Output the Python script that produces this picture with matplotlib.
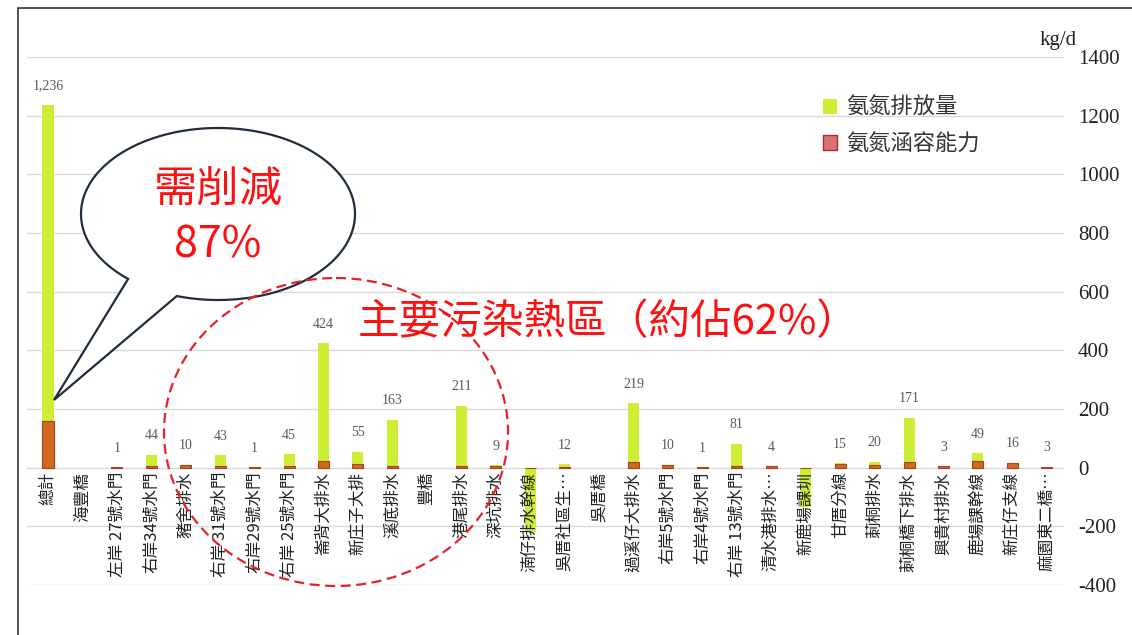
import numpy as np
import matplotlib
matplotlib.use('Agg')
import matplotlib.pyplot as plt
from matplotlib.patches import Patch, Ellipse, PathPatch, Rectangle
from matplotlib.path import Path
from matplotlib.transforms import Affine2D

plt.rcParams['font.family'] = ['Noto Sans CJK TC', 'DejaVu Sans']
plt.rcParams['axes.unicode_minus'] = False

# Data
categories = ['總計', '海豐橋', '左岸 27號水門', '右岸34號水門', '豬舍排水', '右岸 31號水門',
              '右岸29號水門', '右岸 25號水門', '崙背大排水', '新庄子大排', '溪底排水', '豐橋',
              '港尾排水', '深坑排水', '湳仔排水幹線', '吳厝社區生…', '吳厝橋', '過溪仔大排水',
              '右岸5號水門', '右岸4號水門', '右岸 13號水門', '清水港排水…', '新鹿場課圳',
              '甘厝分線', '莿桐排水', '莿桐橋下排水', '興貴村排水', '鹿場課幹線', '新庄仔支線',
              '麻園東二橋…']
nan = np.nan
emission = [1236, nan, 1, 44, 10, 43, 1, 45, 424, 55, 163, nan, 211, 9, -220, 12, nan, 219,
            10, 1, 81, 4, -135, 15, 20, 171, 3, 49, 16, 3]
capacity = [158, nan, 1, 6, 8, 6, 3, 6, 22, 13, 5, nan, 5, 4, 0, 3, nan, 18,
            8, 1, 6, 4, 0, 12, 10, 18, 5, 22, 16, 3]
yticks = [-400, -200, 0, 200, 400, 600, 800, 1000, 1200, 1400]

W, H = 1132, 635
fig = plt.figure(figsize=(W / 100, H / 100), dpi=100)
ax = fig.add_axes([27 / W, 1 - 585 / H, (1064 - 27) / W, (585 - 57) / H])

green = '#CCEE33'
orange = '#D2691E'

x = np.arange(len(categories))
ax.bar(x, emission, width=0.32, color=green, zorder=2)
ax.bar(x, capacity, width=0.32, color=orange, edgecolor='#A8421A', linewidth=0.8, zorder=3)

for i, v in enumerate(emission):
    if not np.isnan(v) and v > 0:
        ax.annotate(f'{int(v):,}', (i, v), xytext=(0, 9), textcoords='offset points',
                    ha='center', va='bottom', fontsize=10, color='#595959',
                    family='Liberation Serif')

ax.set_xlim(-0.61, 29.5)
ax.set_ylim(-400, 1400)
ax.set_yticks(yticks)
ax.yaxis.tick_right()
ax.tick_params(axis='y', length=0, pad=10, labelsize=15)
for t in ax.get_yticklabels():
    t.set_family('Liberation Serif')
    t.set_color('#222222')

# category labels hang from the zero line
ax.spines['bottom'].set_position(('data', 0))
ax.set_xticks(x)
ax.set_xticklabels(categories, rotation=90, fontsize=12, color='#222222')
ax.tick_params(axis='x', length=0, pad=3)
ax.grid(axis='y', color='#D9D9D9', linewidth=1, zorder=0)
ax.set_axisbelow(True)
ax.xaxis.set_zorder(4)   # labels drawn over the negative bars
for s in ax.spines.values():
    s.set_color('none')

# legend
handles = [Patch(facecolor=green, edgecolor='none', label='氨氮排放量'),
           Patch(facecolor='#E07070', edgecolor='#A03030', label='氨氮涵容能力')]
fig.legend(handles=handles, loc='upper left', bbox_to_anchor=(803 / W, 1 - 76 / H),
           frameon=False, fontsize=16, handlelength=0.65, handleheight=0.65,
           handletextpad=0.4, labelspacing=0.6, labelcolor='#333333')

fig.text(1058 / W, 1 - 40 / H, 'kg/d', family='Liberation Serif', fontsize=15,
         ha='center', va='center', color='#222222')

# pixel coordinates (origin top-left)
px = Affine2D().scale(1 / W, -1 / H).translate(0, 1) + fig.transFigure

# speech bubble
cx, cy, rx, ry = 218, 214, 137, 86
t = np.radians(np.linspace(252.5, 229 + 360, 200))
pts = [(cx + rx * np.cos(a), cy - ry * np.sin(a)) for a in t]
pts.append((54, 400))
pts.append(pts[0])
codes = [Path.MOVETO] + [Path.LINETO] * (len(pts) - 2) + [Path.CLOSEPOLY]
bubble = PathPatch(Path(pts, codes), facecolor='white', edgecolor='#1F2D3D',
                   linewidth=1.6, transform=px, zorder=5)
fig.add_artist(bubble)
fig.text(218 / W, 1 - 190 / H, '需削減', color='#FF1010', fontsize=31,
         ha='center', va='center', zorder=6)
fig.text(218 / W, 1 - 245 / H, '87%', color='#FF1010', fontsize=31,
         ha='center', va='center', zorder=6)

# dashed hot-spot circle
circ = Ellipse((336, 432), 344, 308, facecolor='none', edgecolor='#E8202A',
               linewidth=1.6, linestyle=(0, (4.5, 2.5)), transform=px, zorder=5)
fig.add_artist(circ)
fig.text(358 / W, 1 - 322 / H, '主要污染熱區（約佔62%）', color='#FF1010', fontsize=30,
         ha='left', va='center', zorder=6)

# outer frame
fig.add_artist(Rectangle((18 / W, -0.05), 1.1, 1 - 8 / H + 0.05, facecolor='none',
                         edgecolor='#333333', linewidth=1.2, transform=fig.transFigure))

fig.savefig('out.png', dpi=100, facecolor='white')
